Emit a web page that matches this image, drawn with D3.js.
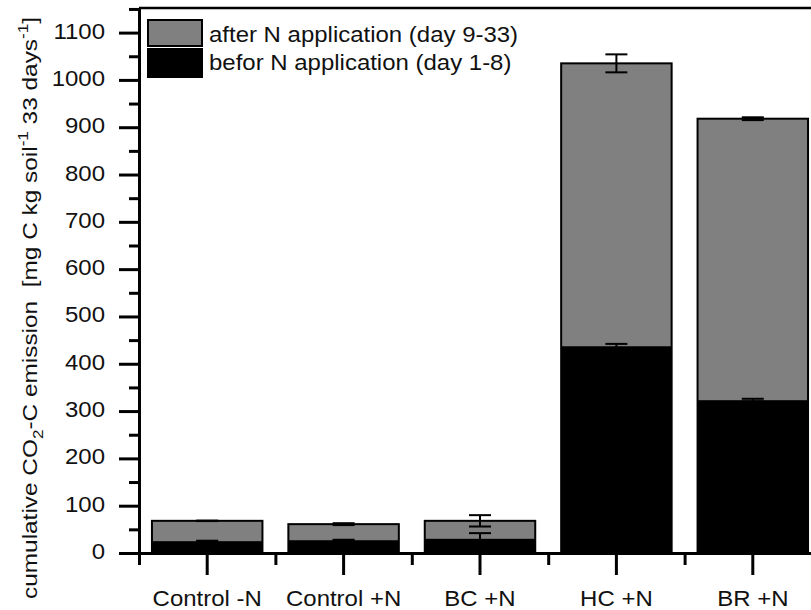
<!DOCTYPE html>
<html>
<head>
<meta charset="utf-8">
<script src="https://cdn.jsdelivr.net/npm/d3@7"></script>
<style>
  body { margin: 0; background: #fff; }
  svg { display: block; }
  text { font-family: "Liberation Sans", Arial, sans-serif; fill: #111; }
</style>
</head>
<body>
<svg id="chart" width="811" height="610"></svg>
<script>
// Cumulative CO2-C emission per treatment (mg C kg soil^-1 33 days^-1)
const categories = ["Control -N", "Control +N", "BC +N", "HC +N", "BR +N"];
const totalEmission = [68, 61, 68, 1035, 918];   // day 1-33 (stack top)
const totalError = [0.5, 2, 12, 19, 3];
const beforeN = [25, 27, 30, 437, 323];           // day 1-8
const beforeError = [1, 1, 12, 5, 3];
const yTicks = d3.range(0, 1101, 100);
const yMinorTicks = d3.range(50, 1151, 100);
const legendLabels = ["after N application (day 9-33)", "befor N application (day 1-8)"];

const colAfter = "#808080", colBefore = "#000000";
const plot = { left: 139, right: 821, top: 8, bottom: 553 };
const sx = 1.09; // horizontal stretch of the lettering
const fs = "22px";

const svg = d3.select("#chart");

const x = d3.scaleBand().domain(categories)
  .range([plot.left, plot.right]).paddingInner(0.19).paddingOuter(0.095);
const y = d3.scaleLinear().domain([0, 1152]).range([plot.bottom, plot.top]);
const bounds = d3.scaleLinear().domain([0, categories.length]).range([plot.left, plot.right]);

const rows = categories.map((c, i) => ({
  c, total: totalEmission[i], totalErr: totalError[i], before: beforeN[i], beforeErr: beforeError[i]
}));

// stacked bars
const bars = svg.append("g");
bars.selectAll("rect.after").data(rows).join("rect")
  .attr("x", d => x(d.c)).attr("width", x.bandwidth())
  .attr("y", d => y(d.total)).attr("height", d => y(0) - y(d.total))
  .attr("fill", colAfter).attr("stroke", "#000").attr("stroke-width", 2);
bars.selectAll("rect.before").data(rows).join("rect")
  .attr("x", d => x(d.c)).attr("width", x.bandwidth())
  .attr("y", d => y(d.before)).attr("height", d => y(0) - y(d.before))
  .attr("fill", colBefore);

// error bars
function errorBars(key, errKey) {
  const g = svg.append("g").attr("stroke", "#000").attr("stroke-width", 2);
  const cap = 11;
  rows.forEach(d => {
    const cx = x(d.c) + x.bandwidth() / 2;
    const hi = y(d[key] + d[errKey]), lo = y(d[key] - d[errKey]);
    g.append("line").attr("x1", cx).attr("x2", cx).attr("y1", hi).attr("y2", lo);
    g.append("line").attr("x1", cx - cap).attr("x2", cx + cap).attr("y1", hi).attr("y2", hi);
    g.append("line").attr("x1", cx - cap).attr("x2", cx + cap).attr("y1", lo).attr("y2", lo);
  });
}
errorBars("before", "beforeErr");
errorBars("total", "totalErr");

// y axis
const yAxis = svg.append("g").attr("transform", `translate(${plot.left},0)`)
  .call(d3.axisLeft(y).tickValues(yTicks).tickSize(20).tickSizeOuter(0).tickPadding(14)
    .tickFormat(d3.format("d")));
yAxis.select(".domain").attr("stroke-width", 3);
yAxis.selectAll(".tick line").attr("stroke-width", 3);
yAxis.selectAll(".tick text")
  .attr("x", 0).attr("dy", "0.25em")
  .attr("transform", `translate(-34,0) scale(${sx},1)`)
  .style("font-size", fs).attr("font-family", null);
svg.append("g").attr("transform", `translate(${plot.left},0)`)
  .call(d3.axisLeft(y).tickValues(yMinorTicks).tickSize(10).tickSizeOuter(0).tickFormat(""))
  .call(g => g.select(".domain").remove())
  .selectAll(".tick line").attr("stroke-width", 3);

// x axis
const xAxis = svg.append("g").attr("transform", `translate(0,${plot.bottom})`)
  .call(d3.axisBottom(x).tickSize(22).tickSizeOuter(0).tickPadding(0));
xAxis.select(".domain").attr("stroke-width", 3);
xAxis.selectAll(".tick line").attr("stroke-width", 3);
xAxis.selectAll(".tick text")
  .attr("y", 0).attr("dy", null)
  .attr("transform", `translate(0,53) scale(${sx},1)`)
  .style("font-size", fs).attr("font-family", null);
svg.append("g").attr("transform", `translate(0,${plot.bottom})`)
  .call(d3.axisBottom(bounds).tickValues(d3.range(0, categories.length + 1)).tickSize(12).tickFormat(""))
  .call(g => g.select(".domain").remove())
  .selectAll(".tick line").attr("stroke-width", 3);

// frame: top and right edges
svg.append("path")
  .attr("d", `M${plot.left},${plot.top}H${plot.right}V${plot.bottom}`)
  .attr("fill", "none").attr("stroke", "#000").attr("stroke-width", 2.5);

// legend
const legend = svg.append("g");
const legendColors = [colAfter, colBefore];
const legendBoxes = [[20, 26], [49, 28]];
const legendBase = [42, 70];
legendLabels.forEach((t, i) => {
  legend.append("rect").attr("x", 148).attr("y", legendBoxes[i][0])
    .attr("width", 54).attr("height", legendBoxes[i][1])
    .attr("fill", legendColors[i]).attr("stroke", "#000").attr("stroke-width", 2);
  legend.append("text")
    .attr("transform", `translate(209,${legendBase[i]}) scale(${sx},1)`)
    .style("font-size", fs).text(t);
});

// y axis title
const title = svg.append("text")
  .attr("transform", "translate(37,308) rotate(-90) scale(1.22,1)")
  .attr("text-anchor", "middle")
  .style("font-size", "20px").style("white-space", "pre");
title.append("tspan").text("cumulative CO");
title.append("tspan").attr("dy", 6).style("font-size", "14px").text("2");
title.append("tspan").attr("dy", -6).text("-C emission  [mg C kg soil");
title.append("tspan").attr("dy", -9).style("font-size", "14px").text("-1");
title.append("tspan").attr("dy", 9).text(" 33 days");
title.append("tspan").attr("dy", -9).style("font-size", "14px").text("-1");
title.append("tspan").attr("dy", 9).text("]");
</script>
</body>
</html>
